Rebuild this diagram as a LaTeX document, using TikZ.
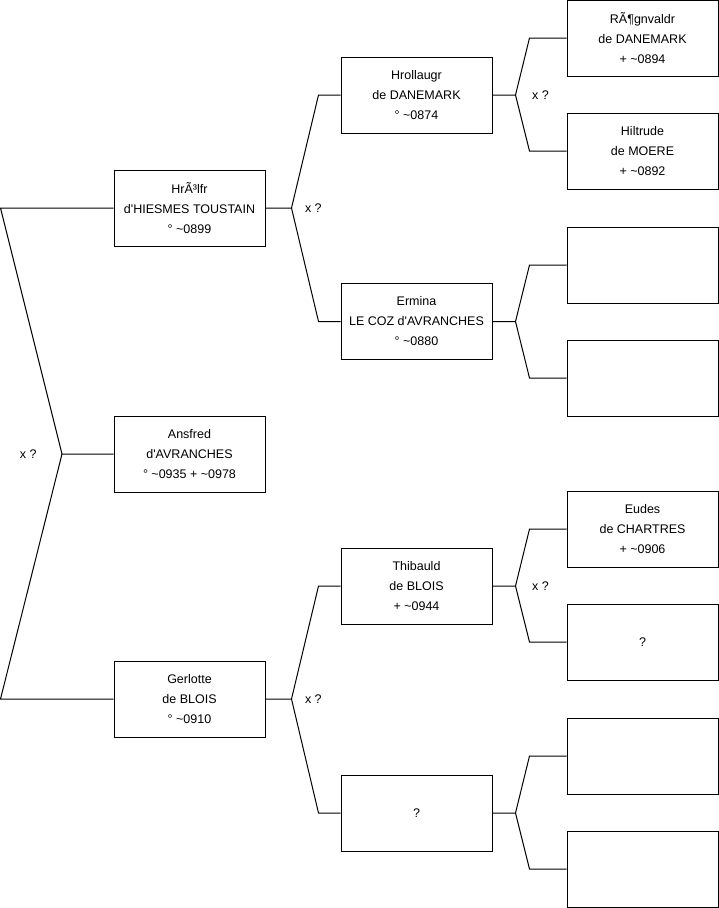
\documentclass[tikz,border=0pt]{standalone}
\usepackage{fontspec}
\setmainfont{Liberation Sans}
\usetikzlibrary{positioning,calc}

\begin{document}
\begin{tikzpicture}[
    x=1pt, y=-1pt,
    person/.style={rectangle, draw, line width=1pt, minimum width=151pt, minimum height=76pt, inner sep=0pt, font=\fontsize{12.5}{20}\selectfont, align=center},
    link/.style={draw, line width=1pt},
    union/.style={font=\fontsize{12.5}{14}\selectfont},
]

% --- Page ---
\fill[white] (0,0) rectangle (719,908);
\useasboundingbox (0,0) rectangle (719,908);

% --- Generation 1 ---
\node[person] (hrolfr) at (189.5,208) {HrÃ³lfr\\d\textquotesingle HIESMES TOUSTAIN\\° \textasciitilde0899};
\node[person] (ansfred) at (189.5,454) {Ansfred\\d\textquotesingle AVRANCHES\\° \textasciitilde0935 + \textasciitilde0978};
\node[person] (gerlotte) at (189.5,699) {Gerlotte\\de BLOIS\\° \textasciitilde0910};

% --- Generation 2 ---
\node[person] (hrollaugr) at (416.5,95) {Hrollaugr\\de DANEMARK\\° \textasciitilde0874};
\node[person] (ermina) at (416.5,321.5) {Ermina\\LE COZ d\textquotesingle AVRANCHES\\° \textasciitilde0880};
\node[person] (thibauld) at (416.5,586) {Thibauld\\de BLOIS\\+ \textasciitilde0944};
\node[person] (gmother) at (416.5,813) {?};

% --- Generation 3 ---
\node[person] (ragnvaldr) at (642.5,38) {RÃ¶gnvaldr\\de DANEMARK\\+ \textasciitilde0894};
\node[person] (hiltrude) at (642.5,151) {Hiltrude\\de MOERE\\+ \textasciitilde0892};
\node[person] (efather) at (642.5,265) {};
\node[person] (emother) at (642.5,378) {};
\node[person] (eudes) at (642.5,529) {Eudes\\de CHARTRES\\+ \textasciitilde0906};
\node[person] (tmother) at (642.5,642) {?};
\node[person] (gfather2) at (642.5,756) {};
\node[person] (gmother2) at (642.5,869) {};

% --- Forks: generation 1 ---
\coordinate (f0) at (62,454);
\draw[link] (hrolfr.west) -- ++(-113,0) -- (f0) -- (ansfred.west);
\draw[link] (gerlotte.west) -- ++(-113,0) -- (f0);
\node[union, left=22pt of f0] {x ?};

% --- Forks: generation 2 ---
\draw[link] (hrolfr.east) -- ++(26,0) coordinate (f1) -- ([xshift=-22pt]hrollaugr.west) -- (hrollaugr.west);
\draw[link] (f1) -- ([xshift=-22pt]ermina.west) -- (ermina.west);
\node[union, right=10pt of f1] {x ?};

\draw[link] (gerlotte.east) -- ++(26,0) coordinate (f2) -- ([xshift=-22pt]thibauld.west) -- (thibauld.west);
\draw[link] (f2) -- ([xshift=-22pt]gmother.west) -- (gmother.west);
\node[union, right=10pt of f2] {x ?};

% --- Forks: generation 3 ---
\draw[link] (hrollaugr.east) -- ++(23,0) coordinate (f3) -- ([xshift=-37pt]ragnvaldr.west) -- (ragnvaldr.west);
\draw[link] (f3) -- ([xshift=-37pt]hiltrude.west) -- (hiltrude.west);
\node[union, right=13pt of f3] {x ?};

\draw[link] (ermina.east) -- ++(23,0) coordinate (f4) -- ([xshift=-37pt]efather.west) -- (efather.west);
\draw[link] (f4) -- ([xshift=-37pt]emother.west) -- (emother.west);

\draw[link] (thibauld.east) -- ++(23,0) coordinate (f5) -- ([xshift=-37pt]eudes.west) -- (eudes.west);
\draw[link] (f5) -- ([xshift=-37pt]tmother.west) -- (tmother.west);
\node[union, right=13pt of f5] {x ?};

\draw[link] (gmother.east) -- ++(23,0) coordinate (f6) -- ([xshift=-37pt]gfather2.west) -- (gfather2.west);
\draw[link] (f6) -- ([xshift=-37pt]gmother2.west) -- (gmother2.west);

\end{tikzpicture}
\end{document}
